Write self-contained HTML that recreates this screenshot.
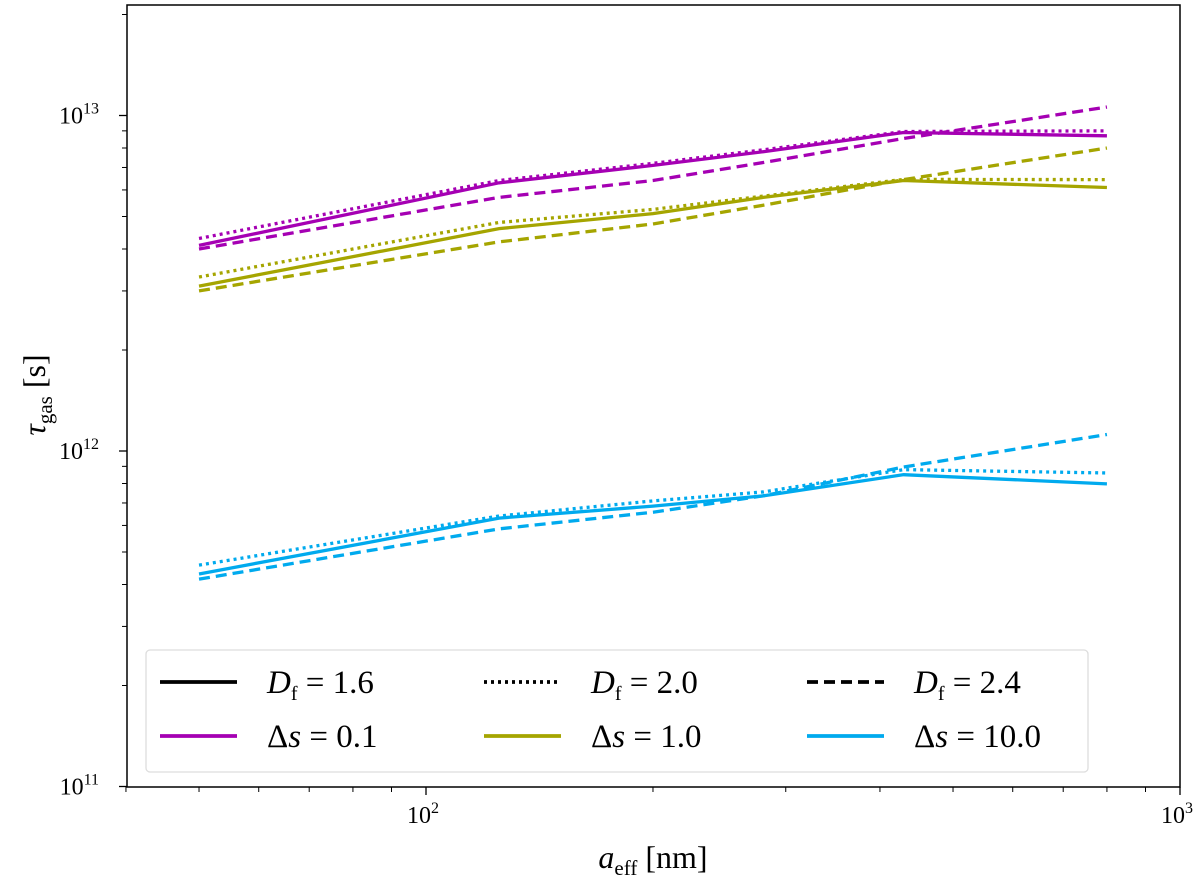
<!DOCTYPE html>
<html><head><meta charset="utf-8"><style>
body{margin:0;background:#fff;}
svg text{font-family:"Liberation Serif",serif;}
</style></head><body>
<svg id="chart" width="1200" height="883" xmlns="http://www.w3.org/2000/svg">
<g id="plot"></g>
</svg>
<script>
const sizes=[50,125,200,280,430,800];
const s01_d16=[4.1e12,6.3e12,7.1e12,7.8e12,8.9e12,8.7e12];
const s01_d20=[4.3e12,6.4e12,7.2e12,7.9e12,8.96e12,9.0e12];
const s01_d24=[4.0e12,5.7e12,6.4e12,7.24e12,8.54e12,1.06e13];
const s1_d16=[3.1e12,4.6e12,5.1e12,5.7e12,6.4e12,6.1e12];
const s1_d20=[3.3e12,4.8e12,5.25e12,5.75e12,6.45e12,6.44e12];
const s1_d24=[3.0e12,4.2e12,4.75e12,5.4e12,6.44e12,8.0e12];
const s10_d16=[4.3e11,6.31e11,6.85e11,7.35e11,8.5e11,7.98e11];
const s10_d20=[4.57e11,6.4e11,7.1e11,7.55e11,8.8e11,8.6e11];
const s10_d24=[4.15e11,5.86e11,6.57e11,7.35e11,8.96e11,1.12e12];
const xTicks=[100,1000];
const yTicks=[1e11,1e12,1e13];

const NS="http://www.w3.org/2000/svg";
const L=127,R=1180,T=5,B=787;
const xs=v=>426+(Math.log10(v)-2)*754;
const ys=v=>451-(Math.log10(v)-12)*335.5;
const g=document.getElementById('plot');
function mk(t,a){const e=document.createElementNS(NS,t);for(const k in a)e.setAttribute(k,a[k]);g.appendChild(e);return e;}
const C={m:'#a500b3',o:'#a5a500',c:'#00aaee'};
const dash={d16:'',d20:'3,4',d24:'11,6'};
const series=[[s01_d16,'m','d16'],[s01_d20,'m','d20'],[s01_d24,'m','d24'],[s1_d16,'o','d16'],[s1_d20,'o','d20'],[s1_d24,'o','d24'],[s10_d16,'c','d16'],[s10_d20,'c','d20'],[s10_d24,'c','d24']];
series.forEach(([d,c,k])=>{
 const p=mk('polyline',{points:d.map((v,i)=>xs(sizes[i])+','+ys(v)).join(' '),fill:'none',stroke:C[c],'stroke-width':3.3,'stroke-dasharray':dash[k]});
 
 
});
for(let dec=10;dec<=100;dec*=10)for(let m=2;m<=9;m++){const v=m*dec;if(v<40||v>1000)continue;
 const t=mk('line',{x1:xs(v),x2:xs(v),y1:B,y2:B+5,stroke:'#000','stroke-width':1});
 
 }
for(let dec=1e11;dec<=1e13;dec*=10)for(let m=2;m<=9;m++){const v=m*dec;const y=ys(v);if(y<T)continue;
 const t=mk('line',{x1:L-5,x2:L,y1:y,y2:y,stroke:'#000','stroke-width':1});
 
 }
xTicks.forEach(v=>{
 const t=mk('line',{x1:xs(v),x2:xs(v),y1:B,y2:B+8,stroke:'#000','stroke-width':1.3});
 
 
 const tx=mk('text',{x:xs(v)-3,y:B+36,'text-anchor':'middle','font-size':24});
 
 
 tx.innerHTML='10<tspan dy="-10" font-size="16">'+Math.log10(v)+'</tspan>';
});
yTicks.forEach(v=>{
 const t=mk('line',{x1:L-8,x2:L,y1:ys(v),y2:ys(v),stroke:'#000','stroke-width':1.3});
 
 
 const tx=mk('text',{x:L-28,y:ys(v)+8,'text-anchor':'end','font-size':24});
 
 
 tx.innerHTML='10<tspan dy="-10" font-size="16">'+Math.log10(v)+'</tspan>';
});
const fr=mk('rect',{x:L,y:T,width:R-L,height:B-T,fill:'none',stroke:'#000','stroke-width':1.5});


const xl=mk('text',{x:653,y:868,'text-anchor':'middle','font-size':32});


xl.innerHTML='<tspan font-style="italic">a</tspan><tspan font-size="21" dy="7">eff</tspan><tspan dy="-7"> [nm]</tspan>';
const yl=mk('text',{x:0,y:0,'text-anchor':'middle','font-size':32,transform:'translate(45,395) rotate(-90)'});


yl.innerHTML='<tspan font-style="italic">τ</tspan><tspan font-size="21" dy="7">gas</tspan><tspan dy="-7"> [s]</tspan>';
const lb=mk('rect',{x:146,y:650,width:942,height:122,rx:4,fill:'#fff','fill-opacity':0.85,stroke:'#ddd','stroke-width':1.3});


const leg=[[160,682,'#000','','<tspan font-style="italic">D</tspan><tspan font-size="20" dy="7">f</tspan><tspan dy="-7"> = 1.6</tspan>'],
[484,682,'#000','3,4','<tspan font-style="italic">D</tspan><tspan font-size="20" dy="7">f</tspan><tspan dy="-7"> = 2.0</tspan>'],
[807,682,'#000','11,6','<tspan font-style="italic">D</tspan><tspan font-size="20" dy="7">f</tspan><tspan dy="-7"> = 2.4</tspan>'],
[160,736,C.m,'','Δ<tspan font-style="italic">s</tspan> = 0.1'],
[484,736,C.o,'','Δ<tspan font-style="italic">s</tspan> = 1.0'],
[807,736,C.c,'','Δ<tspan font-style="italic">s</tspan> = 10.0']];
leg.forEach(([x,y,c,da,t])=>{
 const l=mk('line',{x1:x,x2:x+77,y1:y,y2:y,stroke:c,'stroke-width':3.8,'stroke-dasharray':da});
 
 
 const tx=mk('text',{x:x+107,y:y+11,'font-size':33});
 
 
 tx.innerHTML=t;
});
</script>
</body></html>
